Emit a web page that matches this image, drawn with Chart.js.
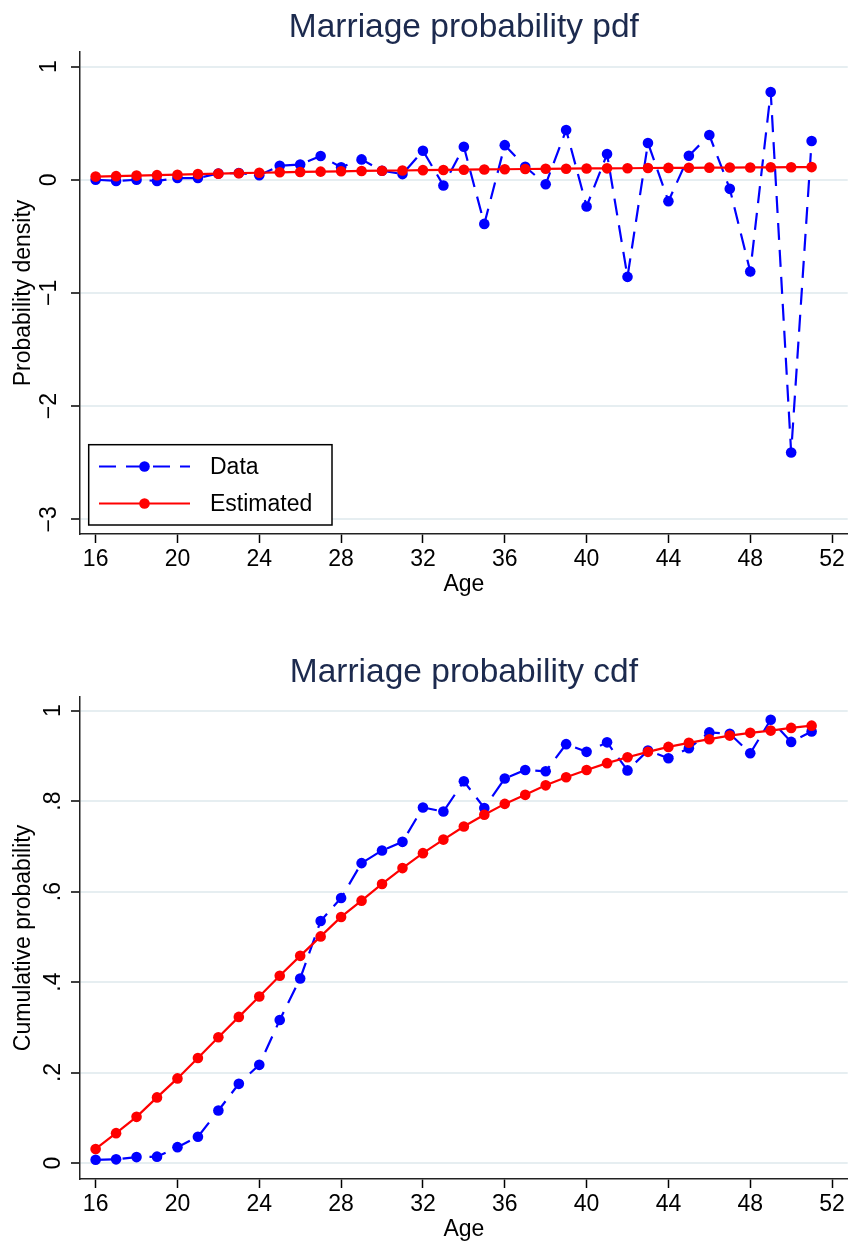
<!DOCTYPE html>
<html>
<head>
<meta charset="utf-8">
<script src="https://cdn.jsdelivr.net/npm/chart.js@4.4.1/dist/chart.umd.min.js"></script>
<style>
  body { margin: 0; background: #fff; overflow: hidden; }
  canvas { position: absolute; left: 0; }
</style>
</head>
<body>
<canvas id="pdf" width="853" height="598" style="top:0"></canvas>
<canvas id="cdf" width="853" height="598" style="top:645px"></canvas>
<script>
// ages 16..51
const ages = [16, 17, 18, 19, 20, 21, 22, 23, 24, 25, 26, 27, 28, 29, 30, 31, 32, 33,
              34, 35, 36, 37, 38, 39, 40, 41, 42, 43, 44, 45, 46, 47, 48, 49, 50, 51];

// density: observed vs fitted
const pdfData = [0.00, -0.01, 0.00, -0.01, 0.015, 0.015, 0.055, 0.06, 0.04, 0.124, 0.135, 0.21,
                 0.11, 0.18, 0.08, 0.05, 0.257, -0.05, 0.292, -0.39, 0.306, 0.115, -0.04, 0.44,
                 -0.236, 0.227, -0.858, 0.325, -0.19, 0.212, 0.395, -0.08, -0.81, 0.776, -2.41, 0.342];
const pdfEst = [0.028, 0.032, 0.037, 0.041, 0.045, 0.05, 0.054, 0.058, 0.062, 0.066, 0.069, 0.072,
                0.075, 0.078, 0.08, 0.082, 0.085, 0.087, 0.089, 0.091, 0.093, 0.095, 0.097, 0.098,
                0.1, 0.101, 0.102, 0.104, 0.105, 0.106, 0.107, 0.108, 0.109, 0.11, 0.111, 0.112];

// cumulative: observed vs fitted
const cdfData = [0.007, 0.008, 0.013, 0.014, 0.035, 0.058, 0.116, 0.175, 0.217, 0.316, 0.408, 0.535,
                 0.586, 0.663, 0.691, 0.710, 0.786, 0.777, 0.844, 0.785, 0.850, 0.869, 0.866, 0.926,
                 0.909, 0.930, 0.868, 0.912, 0.895, 0.917, 0.952, 0.949, 0.906, 0.980, 0.931, 0.954];
const cdfEst = [0.031, 0.066, 0.102, 0.145, 0.187, 0.232, 0.278, 0.323, 0.368, 0.414, 0.458, 0.501,
                0.544, 0.580, 0.617, 0.652, 0.685, 0.715, 0.744, 0.770, 0.794, 0.814, 0.835, 0.853,
                0.869, 0.884, 0.897, 0.909, 0.920, 0.929, 0.937, 0.945, 0.951, 0.956, 0.962, 0.967];

const ageTicks = [16, 20, 24, 28, 32, 36, 40, 44, 48, 52];
const pdfTicks = [-3, -2, -1, 0, 1];
const cdfTicks = [0, 0.2, 0.4, 0.6, 0.8, 1];

Chart.defaults.font.family = '"Liberation Sans", Arial, Helvetica, sans-serif';
Chart.defaults.color = '#000';

function pts(vals) {
  return ages.map((a, i) => ({ x: a, y: vals[i] }));
}

// stata-ish legend box in the lower left of the plot
const boxLegend = {
  id: 'boxLegend',
  afterDraw(chart) {
    const ctx = chart.ctx;
    const ca = chart.chartArea;
    const bx = ca.left + 8.7, by = ca.bottom - 89.3, bw = 243.3, bh = 80.3;
    ctx.save();
    ctx.fillStyle = '#fff';
    ctx.fillRect(bx, by, bw, bh);
    ctx.strokeStyle = '#000';
    ctx.lineWidth = 1.5;
    ctx.strokeRect(bx, by, bw, bh);
    chart.data.datasets.forEach((ds, i) => {
      const y = by + 21.8 + i * 37;
      ctx.strokeStyle = ds.borderColor;
      ctx.lineWidth = ds.borderWidth;
      ctx.setLineDash(ds.borderDash || []);
      ctx.beginPath();
      ctx.moveTo(bx + 10.3, y);
      ctx.lineTo(bx + 101.3, y);
      ctx.stroke();
      ctx.setLineDash([]);
      ctx.fillStyle = ds.pointBackgroundColor;
      ctx.beginPath();
      ctx.arc(bx + 55.8, y, ds.pointRadius, 0, Math.PI * 2);
      ctx.fill();
      ctx.fillStyle = '#000';
      ctx.font = '23px "Liberation Sans", Arial, sans-serif';
      ctx.textBaseline = 'middle';
      ctx.fillText(ds.label, bx + 121.3, y + 1);
    });
    ctx.restore();
  }
};

function makeChart(id, title, yTitle, data, est, yTicks, ymin, ymax, fmt, withLegend) {
  return new Chart(document.getElementById(id), {
    type: 'line',
    data: {
      datasets: [
        {
          label: 'Data',
          data: pts(data),
          borderColor: '#0000ff',
          backgroundColor: '#0000ff',
          pointBackgroundColor: '#0000ff',
          borderWidth: 2.2,
          borderDash: [17, 10],
          pointRadius: 5.3,
          pointBorderWidth: 0,
          tension: 0,
          order: 2
        },
        {
          label: 'Estimated',
          data: pts(est),
          borderColor: '#ff0000',
          backgroundColor: '#ff0000',
          pointBackgroundColor: '#ff0000',
          borderWidth: 2.2,
          pointRadius: 5.3,
          pointBorderWidth: 0,
          tension: 0,
          order: 1
        }
      ]
    },
    options: {
      responsive: false,
      animation: false,
      events: [],
      layout: { padding: { left: 0, right: 2, top: 0, bottom: 0 } },
      plugins: {
        legend: { display: false },
        tooltip: { enabled: false },
        title: {
          display: true,
          fullSize: false,
          text: title,
          color: '#1c2a4e',
          font: { size: 33.5, weight: 'normal' },
          padding: { top: 7.5, bottom: 4.3 }
        }
      },
      scales: {
        x: {
          type: 'linear',
          min: 15.236,
          max: 52.764,
          afterBuildTicks: s => { s.ticks = ageTicks.map(v => ({ value: v })); },
          afterFit: s => { s.height = 64; },
          grid: { drawOnChartArea: false, tickLength: 9, tickColor: '#000', tickWidth: 1.5 },
          border: { color: '#222', width: 1.5 },
          ticks: { font: { size: 23 }, padding: 3, maxRotation: 0, autoSkip: false },
          title: { display: true, text: 'Age', font: { size: 23 }, padding: { top: 0, bottom: 0 } }
        },
        y: {
          min: ymin,
          max: ymax,
          afterBuildTicks: s => { s.ticks = yTicks.map(v => ({ value: v })); },
          afterFit: s => { s.width = 80; },
          grid: { color: '#e6eef1', lineWidth: 2, tickLength: 9, tickColor: '#000', tickWidth: 1.5 },
          border: { color: '#222', width: 1.5 },
          ticks: {
            font: { size: 23 },
            padding: 8,
            minRotation: 90,
            maxRotation: 90,
            crossAlign: 'center',
            autoSkip: false,
            callback: fmt
          },
          title: { display: true, text: yTitle, font: { size: 23 }, padding: { top: 10, bottom: 0 } }
        }
      }
    },
    plugins: withLegend ? [boxLegend] : []
  });
}

const minusFmt = v => (v < 0 ? '\u2212' + (-v) : String(v));
const fracFmt = v => (v === 0 || v === 1 ? String(v) : String(v).replace(/^0/, ''));

makeChart('pdf', 'Marriage probability pdf', 'Probability density',
          pdfData, pdfEst, pdfTicks, -3.13, 1.129, minusFmt, true);
makeChart('cdf', 'Marriage probability cdf', 'Cumulative probability',
          cdfData, cdfEst, cdfTicks, -0.0354, 1.0303, fracFmt, false);
</script>
</body>
</html>
